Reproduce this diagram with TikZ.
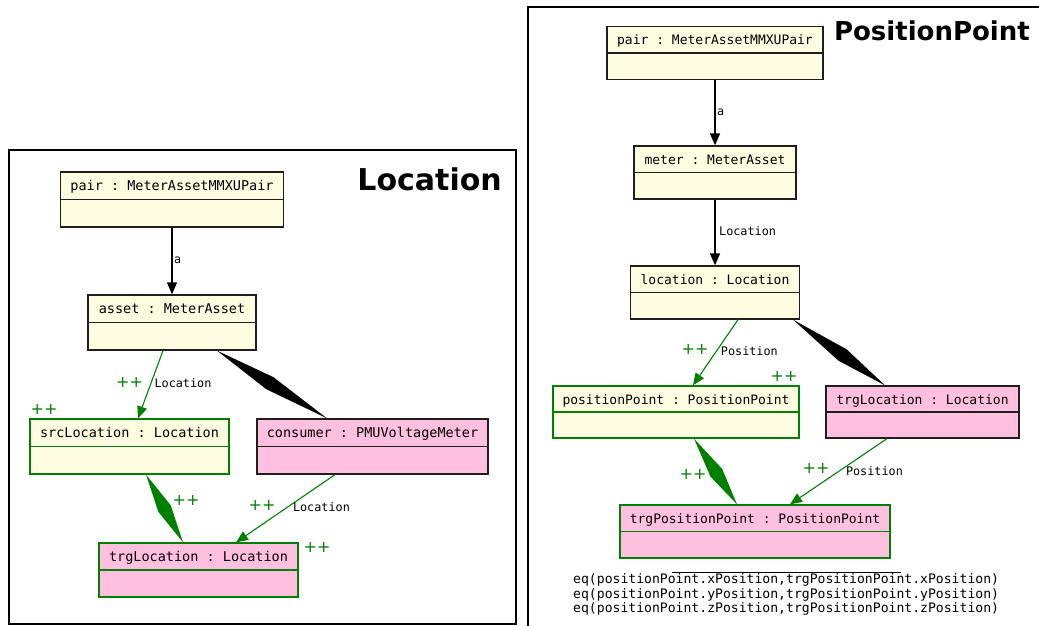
\documentclass[tikz,border=0pt]{standalone}
\usepackage{fontspec}
\setmainfont{DejaVu Sans}
\setsansfont{DejaVu Sans}
\setmonofont{DejaVu Sans Mono}
\usetikzlibrary{arrows.meta,calc}
\definecolor{yel}{RGB}{255,253,225}
\definecolor{pnk}{RGB}{255,192,224}
\definecolor{grn}{RGB}{0,128,0}
\definecolor{brd}{RGB}{30,30,30}
\begin{document}
\begin{tikzpicture}[x=1pt,y=-1pt,
  cls/.style n args={4}{draw=#2, fill=#1, line width=1.3pt, minimum width=#3,
    inner xsep=0pt, inner ysep=0pt, text height=18pt, text depth=#4,
    font=\ttfamily\fontsize{13}{15}\selectfont,
    path picture={\draw[#2, line width=1.3pt] (path picture bounding box.west) -- (path picture bounding box.east);}},
  big/.style={font=\ttfamily\fontsize{13.5}{15}\selectfont},
  blkedge/.style={draw=black, line width=1.3pt, -{Triangle[length=12pt,width=10pt]}},
  grnedge/.style={draw=grn, line width=1.1pt, -{Triangle[length=12pt,width=10pt]}},
  elbl/.style={font=\ttfamily\fontsize{11.8}{13}\selectfont, text=black, inner sep=0pt, anchor=west},
  plus/.style={text=grn, font=\fontsize{16}{16}\selectfont, inner sep=0pt},
  title/.style={font=\bfseries, inner sep=0pt, anchor=base east},
  cline/.style={font=\ttfamily\fontsize{13.1}{15}\selectfont, inner sep=0pt, anchor=base west},
  frame/.style={draw=black, line width=2pt}
]
\useasboundingbox (0,0) rectangle (1039,626);
\clip (0,0) rectangle (1039,626);

% ---------------- frames
\draw[frame] (9,150) rectangle (516,624);
\draw[frame] (528,7) rectangle (1060,660);
\node[title, font=\bfseries\fontsize{30}{30}\selectfont] (tL) at (502,190) {Location};
\node[title, font=\bfseries\fontsize{26}{26}\selectfont] (tR) at (1030,41) {PositionPoint};

% ---------------- left diagram
\node[cls={yel}{brd}{223pt}{37pt}, big] (pairL) at (172,199.5) {pair : MeterAssetMMXUPair};
\node[cls={yel}{brd}{168pt}{37pt}, big] (asset) at (172,322.5) {asset : MeterAsset};
\node[cls={yel}{grn}{199pt}{37pt}, big] (src) at (129.5,446.5) {srcLocation : Location};
\node[cls={pnk}{brd}{231pt}{37pt}, big] (cons) at (372.5,446.5) {consumer : PMUVoltageMeter};
\node[cls={pnk}{grn}{199pt}{36pt}, big] (trgL) at (198.5,570) {trgLocation : Location};

\draw[blkedge] (pairL.south) -- node[elbl, pos=0.485, xshift=1.5pt] (la) {a} (asset.north);
\draw[grnedge] ([xshift=-9pt]asset.south) -- node[elbl, pos=0.48, xshift=3pt] (lloc1) {Location} ([xshift=8.5pt]src.north);
\draw[grnedge] ([xshift=-37.5pt]cons.south) -- node[elbl, pos=0.48, xshift=5pt] (lloc2) {Location} ([xshift=37.5pt]trgL.north);

\coordinate (d1a) at ([xshift=45pt]asset.south);
\coordinate (d1b) at ([xshift=-45.5pt]cons.north);
\fill[black] (d1a) -- ($(d1a)!0.48!(d1b)!7pt!90:(d1b)$) -- (d1b) -- ($(d1a)!0.48!(d1b)!7pt!-90:(d1b)$) -- cycle;
\coordinate (d2a) at ([xshift=16.5pt]src.south);
\coordinate (d2b) at ([xshift=-15.5pt]trgL.north);
\fill[grn] (d2a) -- ($(d2a)!0.5!(d2b)!7pt!90:(d2b)$) -- (d2b) -- ($(d2a)!0.5!(d2b)!7pt!-90:(d2b)$) -- cycle;

\node[plus] (p1) at (129.5,382) {++};
\node[plus] (p2) at (44,409) {++};
\node[plus] (p3) at (186,500) {++};
\node[plus] (p4) at (262,505) {++};
\node[plus] (p5) at (317,547) {++};

% ---------------- right diagram
\node[cls={yel}{brd}{216pt}{35pt}] (pairR) at (715,53) {pair : MeterAssetMMXUPair};
\node[cls={yel}{brd}{162pt}{35pt}] (meter) at (715,172.5) {meter : MeterAsset};
\node[cls={yel}{brd}{169pt}{35pt}] (loc) at (715,292.5) {location : Location};
\node[cls={yel}{grn}{246pt}{34pt}] (pp) at (676,412) {positionPoint : PositionPoint};
\node[cls={pnk}{brd}{193pt}{34pt}] (trgLR) at (922.5,412) {trgLocation : Location};
\node[cls={pnk}{grn}{270pt}{35pt}] (tpp) at (755,531.5) {trgPositionPoint : PositionPoint};

\draw[blkedge] (pairR.south) -- node[elbl, pos=0.5, xshift=1.5pt] (la2) {a} (meter.north);
\draw[blkedge] (meter.south) -- node[elbl, pos=0.48, xshift=3.5pt] (lloc3) {Location} (loc.north);
\draw[grnedge] ([xshift=23pt]loc.south) -- node[elbl, pos=0.48, xshift=4pt] (lpos1) {Position} ([xshift=17pt]pp.north);
\draw[grnedge] ([xshift=-35.5pt]trgLR.south) -- node[elbl, pos=0.49, xshift=6pt] (lpos2) {Position} ([xshift=35pt]tpp.north);

\coordinate (d3a) at ([xshift=78pt]loc.south);
\coordinate (d3b) at ([xshift=-37.5pt]trgLR.north);
\fill[black] (d3a) -- ($(d3a)!0.54!(d3b)!7pt!90:(d3b)$) -- (d3b) -- ($(d3a)!0.54!(d3b)!7pt!-90:(d3b)$) -- cycle;
\coordinate (d4a) at ([xshift=18pt]pp.south);
\coordinate (d4b) at ([xshift=-18pt]tpp.north);
\fill[grn] (d4a) -- ($(d4a)!0.52!(d4b)!7pt!90:(d4b)$) -- (d4b) -- ($(d4a)!0.52!(d4b)!7pt!-90:(d4b)$) -- cycle;

\node[plus] (p6) at (695,349) {++};
\node[plus] (p7) at (784,376) {++};
\node[plus] (p8) at (693,474) {++};
\node[plus] (p9) at (816,468) {++};

% constraint
\coordinate (cl1) at (672,572);
\coordinate (cl2) at (901,572);
\draw[line width=0.8pt] (cl1) -- (cl2);
\node[cline] (c1) at (573,583.5) {eq(positionPoint.xPosition,trgPositionPoint.xPosition)};
\node[cline] (c2) at (573,598) {eq(positionPoint.yPosition,trgPositionPoint.yPosition)};
\node[cline] (c3) at (573,612.5) {eq(positionPoint.zPosition,trgPositionPoint.zPosition)};
\end{tikzpicture}
\end{document}
